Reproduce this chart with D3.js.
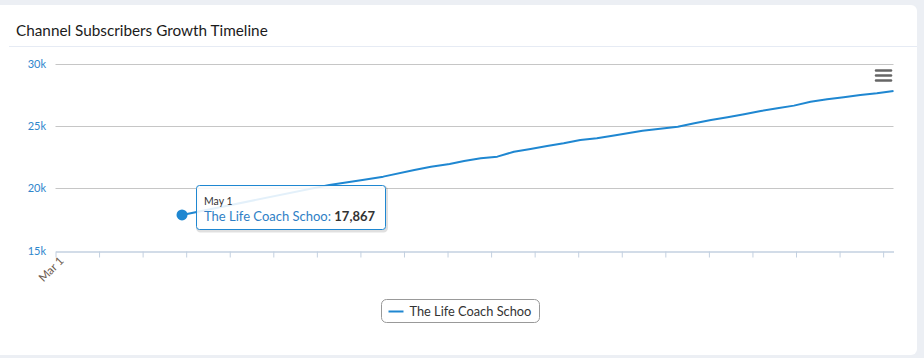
<!DOCTYPE html>
<html>
<head>
<meta charset="utf-8">
<script src="https://cdn.jsdelivr.net/npm/d3@7"></script>
<style>
  html, body { margin: 0; padding: 0; background: #eceff4; }
  svg { display: block; }
</style>
</head>
<body>
<svg id="chart" width="924" height="358"></svg>
<script>
// ---- data ----
const seriesName = "The Life Coach Schoo";
const dates = [
  "2023-05-01","2023-07-11","2023-07-27","2023-08-06","2023-08-21","2023-08-29",
  "2023-09-07","2023-09-14","2023-09-22","2023-09-30","2023-10-08","2023-10-16",
  "2023-10-24","2023-11-01","2023-11-09","2023-11-17","2023-11-26","2023-12-09",
  "2023-12-26","2024-01-03","2024-01-11","2024-01-19","2024-01-27","2024-02-04",
  "2024-02-12","2024-02-20","2024-02-28","2024-03-07","2024-03-15","2024-03-23",
  "2024-03-31","2024-04-08"
];
const subscribers = [
  17867, 20280, 20680, 20950, 21490, 21750,
  21970, 22210, 22430, 22560, 22960, 23180,
  23420, 23640, 23900, 24040, 24280, 24650,
  24970, 25250, 25510, 25730, 25970, 26240,
  26460, 26670, 26990, 27180, 27340, 27530,
  27660, 27850
];
const yTicks = [15000, 20000, 25000, 30000];
const yTickLabels = ["15k", "20k", "25k", "30k"];
const xStart = "2023-03-01";
const xEnd = "2024-04-08";
const xTickLabel = "Mar 1";
const tooltipIndex = 0;
const tooltipDate = "May 1";
const title = "Channel Subscribers Growth Timeline";

// ---- drawing ----
(function () {
const font = "Lato, 'Source Sans Pro', 'Noto Sans', sans-serif";
const blue = "#1f87d1";
const parse = d3.timeParse("%Y-%m-%d");
const data = dates.map((d, i) => ({ date: parse(d), value: subscribers[i] }));

const svg = d3.select("#chart");

// card
svg.append("rect").attr("x", -6).attr("y", 5).attr("width", 923).attr("height", 350)
  .attr("rx", 6).attr("fill", "#ffffff");

svg.append("text").attr("x", 16).attr("y", 36).text(title)
  .attr("font-family", font).attr("font-size", 15.3).attr("fill", "#1b1b1b");
svg.append("line").attr("x1", 9).attr("x2", 917).attr("y1", 46.5).attr("y2", 46.5)
  .attr("stroke", "#e6ebf4").attr("stroke-width", 1);

const pLeft = 55.5, pRight = 893.5, pTop = 64.3, pBottom = 250.5;

const x = d3.scaleTime().domain([parse(xStart), parse(xEnd)]).range([pLeft, pRight]);
const y = d3.scaleLinear().domain([15000, 30000]).range([pBottom, pTop]);

// gridlines
svg.append("g").selectAll("line").data(yTicks.slice(1)).join("line")
  .attr("x1", pLeft).attr("x2", pRight)
  .attr("y1", d => Math.round(y(d)) + 0.5).attr("y2", d => Math.round(y(d)) + 0.5)
  .attr("stroke", "#c6c6c6").attr("stroke-width", 1);

// y labels
svg.append("g").selectAll("text").data(yTicks).join("text")
  .attr("x", 46).attr("y", d => y(d) + 4)
  .attr("text-anchor", "end")
  .attr("font-family", font).attr("font-size", 11).attr("fill", "#2f86cc")
  .text((d, i) => yTickLabels[i]);

// x axis (ticks every 21 days)
const xTickDates = d3.range(0, 20).map(i => d3.timeDay.offset(parse(xStart), i * 21));
const xAxis = d3.axisBottom(x).tickValues(xTickDates).tickSize(6).tickSizeOuter(0)
  .tickFormat(() => "");
const gx = svg.append("g").attr("transform", `translate(0,${Math.round(pBottom) + 0.5})`).call(xAxis);
gx.select(".domain").attr("stroke", "#c3d0e0").attr("stroke-width", 1.5);
gx.selectAll(".tick line").attr("stroke", "#c3d0e0");
gx.selectAll(".tick text").remove();

svg.append("text")
  .attr("transform", `translate(${x(parse(xStart)) + 9},${pBottom + 11}) rotate(-45)`)
  .attr("text-anchor", "end")
  .attr("font-family", font).attr("font-size", 11.5).attr("fill", "#6b5a4e")
  .text(xTickLabel);

// line
const line = d3.line().x(d => x(d.date)).y(d => y(d.value)).curve(d3.curveLinear);
svg.append("path").datum(data).attr("d", line)
  .attr("fill", "none").attr("stroke", blue).attr("stroke-width", 2)
  .attr("stroke-linejoin", "round");

// hovered point
const hp = data[tooltipIndex];
svg.append("circle").attr("cx", x(hp.date)).attr("cy", y(hp.value)).attr("r", 5.5)
  .attr("fill", blue);

// tooltip
const tt = svg.append("g").attr("transform", "translate(196.5,185.5)");
tt.append("rect").attr("x", 1).attr("y", 1.5).attr("width", 189).attr("height", 44).attr("rx", 3)
  .attr("fill", "none").attr("stroke", "rgba(0,0,0,0.12)").attr("stroke-width", 3);
tt.append("rect").attr("width", 189).attr("height", 44).attr("rx", 3)
  .attr("fill", "rgba(255,255,255,0.88)").attr("stroke", blue).attr("stroke-width", 1);
tt.append("text").attr("x", 7.5).attr("y", 19).text(tooltipDate)
  .attr("font-family", font).attr("font-size", 10.5).attr("fill", "#333");
const t2 = tt.append("text").attr("x", 7.5).attr("y", 35)
  .attr("font-family", font).attr("font-size", 13);
t2.append("tspan").attr("fill", "#2f7fc6").text(seriesName + ": ");
t2.append("tspan").attr("fill", "#333").attr("font-weight", "bold")
  .text(d3.format(",")(hp.value));

// menu icon
svg.append("g").selectAll("line").data([70.5, 75.5, 80.5]).join("line")
  .attr("x1", 876).attr("x2", 891).attr("y1", d => d).attr("y2", d => d)
  .attr("stroke", "#666").attr("stroke-width", 2.5).attr("stroke-linecap", "round");

// legend
const lg = svg.append("g").attr("transform", "translate(381.5,299.5)");
lg.append("rect").attr("width", 158).attr("height", 23).attr("rx", 5)
  .attr("fill", "#fff").attr("stroke", "#999").attr("stroke-width", 1);
lg.append("line").attr("x1", 7).attr("x2", 22).attr("y1", 12).attr("y2", 12)
  .attr("stroke", blue).attr("stroke-width", 2);
lg.append("text").attr("x", 28).attr("y", 16.5).text(seriesName)
  .attr("font-family", font).attr("font-size", 12.8).attr("fill", "#333");
})();
</script>
</body>
</html>
